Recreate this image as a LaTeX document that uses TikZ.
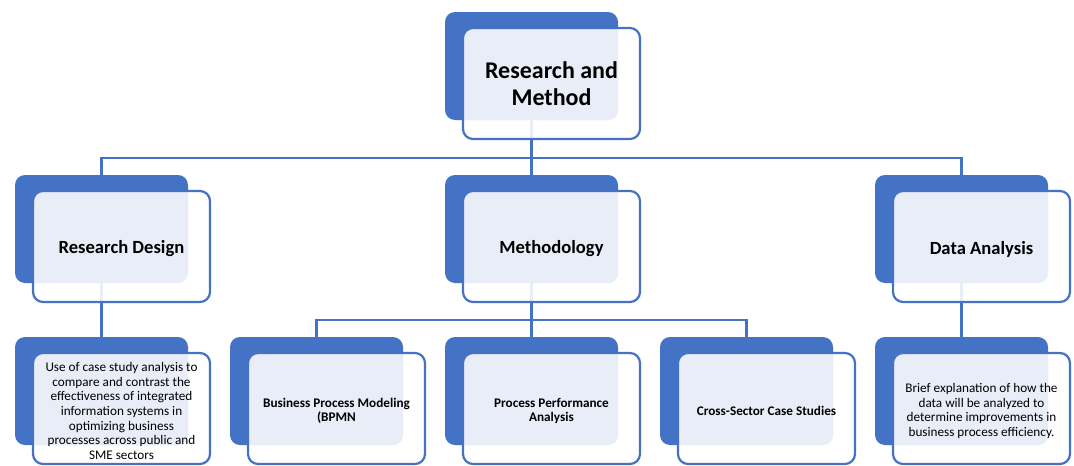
\documentclass[tikz,border=0pt]{standalone}
\usepackage{fontspec}
\setmainfont{Carlito}
\usetikzlibrary{calc}
\definecolor{ublue}{HTML}{4472C4}
\definecolor{ulight}{HTML}{E9EDF7}
\pgfdeclarelayer{background}
\pgfsetlayers{background,main}
\tikzset{
  backbox/.style={fill=ublue, rounded corners=10pt, minimum width=173pt, minimum height=108pt, inner sep=0pt, outer sep=0pt, anchor=north west},
  frontbox/.style={draw=ublue, line width=2.2pt, rounded corners=10pt, minimum width=177pt, minimum height=111pt, inner sep=0pt, outer sep=0pt, anchor=north west},
  conn/.style={draw=ublue, line width=2.6pt},
  ttop/.style={font=\bfseries\fontsize{24}{27}\selectfont},
  tmid/.style={font=\bfseries\fontsize{18.6}{22}\selectfont, yshift=-2.5pt},
  tlow/.style={font=\bfseries\fontsize{13.2}{14.5}\selectfont, yshift=-2.5pt},
  tdet/.style={font=\fontsize{13.2}{14.6}\selectfont, yshift=-2.5pt},
}
\newcommand\unitbox[5]{%
  \node[backbox] (#1b) at (#2,#3) {};
  \fill[white, fill opacity=0.88, rounded corners=10pt] ($(#1b.north west)+(18,16)$) rectangle ++(177,111);
  \begin{scope}
    \clip[rounded corners=10pt] (#1b.north west) rectangle (#1b.south east);
    \fill[ulight, rounded corners=10pt] ($(#1b.north west)+(18,16)$) rectangle ++(177,111);
  \end{scope}
  \node[frontbox] (#1) at ($(#1b.north west)+(18,16)$) {};
  \node[align=center, text=black, inner sep=0pt, #4] (#1t) at (#1.center) {#5};
}
\begin{document}
\begin{tikzpicture}[x=1pt,y=-1pt]
\useasboundingbox (0,0) rectangle (1074,466);
\unitbox{top}{445}{12}{ttop}{Research and\\Method}
\unitbox{rd}{15}{175}{tmid}{Research Design}
\unitbox{met}{445}{175}{tmid}{Methodology}
\unitbox{da}{875}{175}{tmid}{Data Analysis}
\unitbox{rdd}{15}{337}{tdet}{Use of case study analysis to\\compare and contrast the\\effectiveness of integrated\\information systems in\\optimizing business\\processes across public and\\SME sectors}
\unitbox{bp}{230}{337}{tlow}{Business Process Modeling\\(BPMN}
\unitbox{pp}{445}{337}{tlow}{Process Performance\\Analysis}
\unitbox{cs}{660}{337}{tlow}{Cross-Sector Case Studies}
\unitbox{dad}{875}{337}{tdet}{Brief explanation of how the\\data will be analyzed to\\determine improvements in\\business process efficiency.}
\begin{pgfonlayer}{background}
  \fill[white] (0,0) rectangle (1074,466);
  \coordinate (h1) at ($(topb.south)+(0,38)$);
  \draw[conn] (topb.south) -- (h1);
  \draw[conn] (rdb.north) |- (h1);
  \draw[conn] (dab.north) |- (h1);
  \draw[conn] (metb.north) -- (metb.north |- h1);
  \draw[conn] (rdb.south) -- (rddb.north);
  \draw[conn] (dab.south) -- (dadb.north);
  \coordinate (h2) at ($(metb.south)+(0,37)$);
  \draw[conn] (metb.south) -- (h2);
  \draw[conn] (bpb.north) |- (h2);
  \draw[conn] (csb.north) |- (h2);
  \draw[conn] (ppb.north) -- (ppb.north |- h2);
\end{pgfonlayer}
\end{tikzpicture}
\end{document}
